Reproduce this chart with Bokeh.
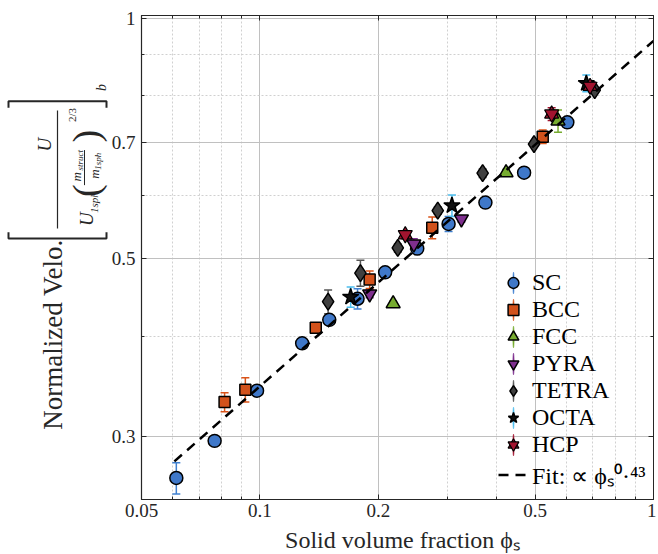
from math import pi
from bokeh.plotting import figure
from bokeh.models import (ColumnDataSource, Whisker, TeeHead, FixedTicker, LogAxis,
                          Legend, LegendItem, Range1d)
from bokeh.layouts import row, column
from bokeh.core.properties import value
from bokeh.embed import file_html
from bokeh.resources import INLINE

# ---------------- data ----------------
x_ticks = [0.05, 0.1, 0.2, 0.5, 1.0]
x_tick_labels = ["0.05", "0.1", "0.2", "0.5", "1"]
x_minor = [0.06, 0.07, 0.08, 0.09, 0.3, 0.4, 0.6, 0.7, 0.8, 0.9]
y_ticks = [0.3, 0.5, 0.7, 1.0]
y_tick_labels = ["0.3", "0.5", "0.7", "1"]
y_minor = [0.4, 0.6, 0.8, 0.9]

sc_x = [0.0613, 0.0767, 0.0983, 0.128, 0.150, 0.177, 0.208, 0.251, 0.3015, 0.374, 0.469, 0.604]
sc_y = [0.266, 0.296, 0.342, 0.392, 0.4195, 0.4457, 0.481, 0.515, 0.553, 0.588, 0.641, 0.741]
sc_e = [0.012, 0.002, 0.005, 0.005, 0.004, 0.013, 0.006, 0.007, 0.012, 0.003, 0.003, 0.008]

bcc_x = [0.0813, 0.0918, 0.1386, 0.190, 0.274, 0.523]
bcc_y = [0.331, 0.343, 0.410, 0.471, 0.547, 0.711]
bcc_e = [0.009, 0.012, 0.004, 0.012, 0.017, 0.014]

fcc_x = [0.218, 0.422, 0.572]
fcc_y = [0.4395, 0.641, 0.744]
fcc_e = [0.003, 0.006, 0.024]

pyra_x = [0.190, 0.246, 0.325]
pyra_y = [0.452, 0.522, 0.561]
pyra_e = [0.005, 0.008, 0.005]

tetra_x = [0.149, 0.180, 0.224, 0.283, 0.368, 0.497, 0.709]
tetra_y = [0.442, 0.480, 0.516, 0.5745, 0.640, 0.696, 0.813]
tetra_e = [0.015, 0.018, 0.006, 0.006, 0.008, 0.006, 0.006]

octa_x = [0.170, 0.3075, 0.675]
octa_y = [0.448, 0.583, 0.829]
octa_e = [0.013, 0.018, 0.020]

hcp_x = [0.234, 0.551, 0.690]
hcp_y = [0.536, 0.759, 0.822]
hcp_e = [0.006, 0.014, 0.005]

fit_x = [0.0606, 1.0]
fit_y = [0.279, 0.937]

series_names = ["SC", "BCC", "FCC", "PYRA", "TETRA", "OCTA", "HCP"]
fit_label = "Fit: \u221d \u03d5\u209b\u2070\u00b7\u2074\u00b3"
x_label = "Solid volume fraction \u03d5\u209b"

# ---------------- styles ----------------
FONT = "Liberation Serif"
TXT = "#262626"

styles = {
    "SC":    dict(marker="circle", size=13, fill="#3f78c9", err="#3f80d0"),
    "BCC":   dict(marker="square", size=11, fill="#d2521c", err="#d95319"),
    "FCC":   dict(marker="triangle", size=14, fill="#77ac30", err="#77ac30"),
    "PYRA":  dict(marker="inverted_triangle", size=14, fill="#7e2f8e", err="#7e2f8e"),
    "TETRA": dict(marker="diamond", size=17, fill="#404040", err="#555555"),
    "OCTA":  dict(marker="star", size=17, fill="#111111", err="#4dbeee"),
    "HCP":   dict(marker="hexagram", size=14, fill="#a2142f", err="#a2142f"),
}
data = {
    "SC": (sc_x, sc_y, sc_e), "BCC": (bcc_x, bcc_y, bcc_e), "FCC": (fcc_x, fcc_y, fcc_e),
    "PYRA": (pyra_x, pyra_y, pyra_e), "TETRA": (tetra_x, tetra_y, tetra_e),
    "OCTA": (octa_x, octa_y, octa_e), "HCP": (hcp_x, hcp_y, hcp_e),
}

H = 525          # height of the plot row
HB = 29          # height of the x-title strip below

# ---------------- main figure ----------------
p = figure(width=548, height=H, x_axis_type="log", y_axis_type="log",
           x_range=Range1d(0.05, 1.0), y_range=Range1d(0.25, 1.008),
           output_backend="svg", toolbar_location=None,
           min_border_left=32, min_border_right=3, min_border_top=15,
           min_border_bottom=H - 499)
p.background_fill_color = "white"
p.border_fill_color = "white"
p.outline_line_color = TXT
p.outline_line_width = 1

xt = FixedTicker(ticks=x_ticks, minor_ticks=x_minor)
yt = FixedTicker(ticks=y_ticks, minor_ticks=y_minor)
p.xaxis[0].ticker = xt
p.yaxis[0].ticker = yt
p.xgrid[0].ticker = xt
p.ygrid[0].ticker = yt
p.xaxis[0].major_label_overrides = {t: s for t, s in zip(x_ticks, x_tick_labels)}
p.yaxis[0].major_label_overrides = {t: s for t, s in zip(y_ticks, y_tick_labels)}

for g in (p.xgrid[0], p.ygrid[0]):
    g.grid_line_color = "#c0c0c0"
    g.grid_line_width = 1
    g.minor_grid_line_color = "#d0d0d0"
    g.minor_grid_line_dash = "2 2"
    g.minor_grid_line_width = 1

for ax in (p.xaxis[0], p.yaxis[0]):
    ax.axis_line_color = TXT
    ax.axis_line_width = 1.2
    ax.major_tick_line_color = TXT
    ax.minor_tick_line_color = TXT
    ax.major_tick_in = 5
    ax.major_tick_out = 0
    ax.minor_tick_in = 3
    ax.minor_tick_out = 0
    ax.major_label_text_font = FONT
    ax.major_label_text_font_size = "19px"
    ax.major_label_text_color = TXT
p.xaxis[0].major_label_standoff = 4
p.yaxis[0].major_label_standoff = 6

# mirrored tick-only axes on top and right
top_ax = LogAxis(ticker=xt, major_label_overrides={t: "" for t in x_ticks})
right_ax = LogAxis(ticker=yt, major_label_overrides={t: "" for t in y_ticks})
for ax in (top_ax, right_ax):
    ax.major_label_text_font_size = "1px"
    ax.major_label_standoff = 0
    ax.axis_line_color = TXT
    ax.major_tick_line_color = TXT
    ax.minor_tick_line_color = TXT
    ax.major_tick_in = 5
    ax.major_tick_out = 0
    ax.minor_tick_in = 3
    ax.minor_tick_out = 0
p.add_layout(top_ax, "above")
p.add_layout(right_ax, "right")

nan = float("nan")
legend_items = []
for name in series_names:
    xs, ys, es = data[name]
    st = styles[name]
    src = ColumnDataSource(dict(x=xs, y=ys,
                                upper=[a + b for a, b in zip(ys, es)],
                                lower=[a - b for a, b in zip(ys, es)]))
    w = Whisker(base="x", upper="upper", lower="lower", source=src, dimension="height",
                line_color=st["err"], line_width=1.5,
                upper_head=TeeHead(size=8, line_color=st["err"], line_width=1.5),
                lower_head=TeeHead(size=8, line_color=st["err"], line_width=1.5))
    p.add_layout(w)
    rends = []
    # legend-only vertical error bar glyph (thin vertical ellipse)
    rends.append(p.ellipse(x=[nan], y=[nan], width=1.2, height=20, width_units="screen",
                           height_units="screen", fill_color=st["err"], line_color=st["err"],
                           line_width=0.6))
    if st["marker"] == "hexagram":
        rends.append(p.scatter("x", "y", source=src, marker="triangle", size=st["size"],
                               fill_color=st["fill"], line_color="black", line_width=1.2))
        rends.append(p.scatter("x", "y", source=src, marker="inverted_triangle", size=st["size"],
                               fill_color=st["fill"], line_color="black", line_width=1.2))
    else:
        rends.append(p.scatter("x", "y", source=src, marker=st["marker"], size=st["size"],
                               fill_color=st["fill"], line_color="black", line_width=1.5))
    legend_items.append(LegendItem(label=name, renderers=rends))

fit_r = p.line(fit_x, fit_y, line_color="black", line_width=2.5, line_dash="10 7")
legend_items.append(LegendItem(label=fit_label, renderers=[fit_r]))

legend = Legend(items=legend_items, location=(357, 8), border_line_color=None,
                background_fill_alpha=0, label_text_font=FONT, label_text_font_size="24px",
                label_text_color="black", glyph_width=30, glyph_height=27, label_height=27,
                spacing=0, padding=5, margin=0, label_standoff=4)
p.add_layout(legend)


def blank_panel(w, h, xr, yr):
    f = figure(width=w, height=h, x_range=Range1d(*xr), y_range=Range1d(*yr),
               output_backend="svg", toolbar_location=None, min_border=0,
               x_axis_type=None, y_axis_type=None)
    f.outline_line_color = None
    f.background_fill_color = "white"
    f.border_fill_color = "white"
    return f


# ---------------- y-label panel (page-pixel coordinates) ----------------
lp = blank_panel(108, H, (0, 108), (H, 0))


def txt(x, y, s, size, style="normal"):
    lp.text(x=[x], y=[y], text=[s], angle=pi / 2, text_align="center",
            text_baseline="middle", text_font=value(FONT), text_font_size=size,
            text_font_style=style, text_color=TXT)


txt(52, 346, "Normalized Velo.", "27px")
# brackets
lp.line([8, 8, 106, 106], [235, 242, 242, 235], line_color=TXT, line_width=2)
lp.line([8, 8, 106, 106], [100, 93, 93, 100], line_color=TXT, line_width=2)
txt(101, 78, "b", "14px", "italic")
# main fraction
lp.line([57, 57], [103, 231], line_color=TXT, line_width=1.2)
txt(44, 140, "U", "19px", "italic")
txt(86, 221, "U", "19px", "italic")
txt(93, 203, "1sph", "11px", "italic")
txt(85, 190, "(", "38px")
lp.line([84, 84], [146, 184], line_color=TXT, line_width=1)
txt(76, 175, "m", "13px", "italic")
txt(79, 157, "struct", "9px", "italic")
txt(94, 172, "m", "13px", "italic")
txt(97, 158, "1sph", "9px", "italic")
txt(85, 131, ")", "38px")
txt(71, 108, "2/3", "11px")

# ---------------- x-title strip ----------------
bp = blank_panel(656, HB, (0, 656), (H + HB, H))
bp.text(x=[402], y=[H + HB / 2], text=[x_label], text_align="center", text_baseline="middle",
        text_font=value(FONT), text_font_size="24px", text_color=TXT)

layout = column(row(lp, p), bp)
open("out.html", "w").write(file_html(layout, INLINE))
